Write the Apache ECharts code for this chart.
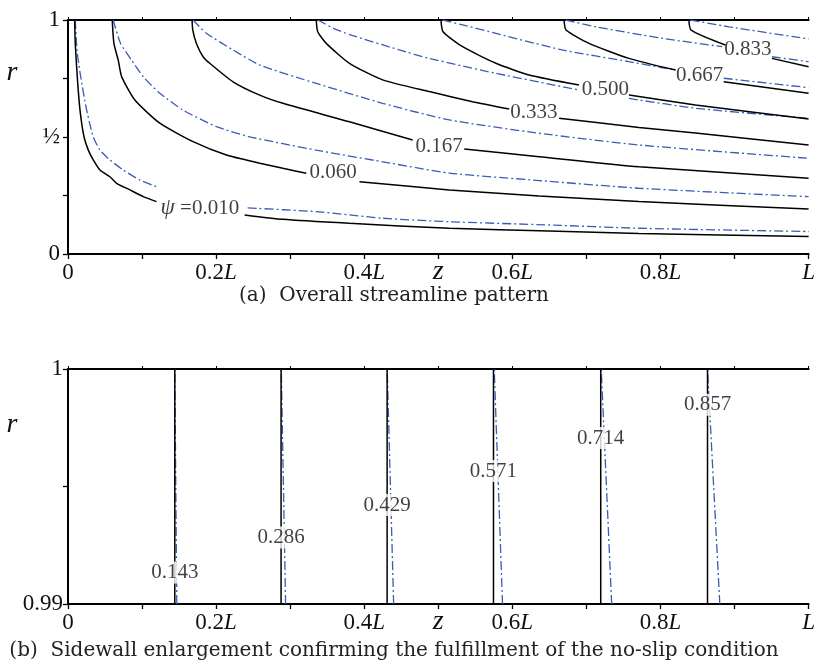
<!DOCTYPE html>
<html>
<head>
<meta charset="utf-8">
<title>Streamlines</title>
<script src="https://cdn.jsdelivr.net/npm/echarts@6/dist/echarts.min.js"></script>
<style>
  html, body { margin: 0; padding: 0; background: #fff; }
  #main { width: 818px; height: 672px; }
</style>
</head>
<body>
<div id="main"></div>
<script>
(function () {
    "use strict";

    // ---- data, [z/L, r] ----
    var gap = ['-', '-'];

    var solid010 = [[0.009, 1.0], [0.0098, 0.900], [0.0125, 0.758], [0.0162, 0.615], [0.0216, 0.501],
        [0.0274, 0.444], [0.0341, 0.402], [0.0431, 0.359], [0.0566, 0.330], [0.0656, 0.302],
        [0.0836, 0.274], [0.1016, 0.245], [0.1195, 0.224], gap, [0.2385, 0.167], [0.2898, 0.148],
        [0.380, 0.131], [0.5148, 0.110], [0.6496, 0.098], [0.7709, 0.088], [1.0, 0.075]];
    var dash010 = [[0.0098, 1.0], [0.0121, 0.872], [0.0171, 0.758], [0.0252, 0.615], [0.0341, 0.501],
        [0.0431, 0.444], [0.0566, 0.402], [0.0745, 0.359], [0.097, 0.316], [0.1195, 0.288], gap,
        [0.2426, 0.197], [0.3352, 0.181], [0.4245, 0.153], [0.5148, 0.138], [0.6496, 0.124],
        [0.7709, 0.110], [1.0, 0.096]];

    var solid060 = [[0.0597, 1.0], [0.062, 0.900], [0.0678, 0.829], [0.0724, 0.758], [0.0903, 0.658],
        [0.124, 0.559], [0.1689, 0.480], [0.2139, 0.423], [0.2588, 0.388], [0.2902, 0.366], [0.3217, 0.345], gap,
        [0.3935, 0.309], [0.5148, 0.274], [0.6361, 0.248], [0.7709, 0.224], [1.0, 0.192]];
    var dash060 = [[0.061, 1.0], [0.071, 0.900], [0.0858, 0.829], [0.1015, 0.758], [0.124, 0.687],
        [0.1554, 0.615], [0.2004, 0.544], [0.2453, 0.501], [0.3352, 0.444], [0.4249, 0.394],
        [0.5148, 0.346], [0.6361, 0.314], [0.7709, 0.281], [1.0, 0.245]];

    var solid167 = [[0.1675, 1.0], [0.1685, 0.957], [0.1734, 0.900], [0.1824, 0.843], [0.1914, 0.815],
        [0.2228, 0.736], [0.2588, 0.679], [0.2902, 0.644], [0.380, 0.565], [0.4654, 0.487], gap,
        [0.535, 0.449], [0.6361, 0.416], [0.7709, 0.373], [1.0, 0.324]];
    var dash167 = [[0.1689, 1.0], [0.1869, 0.943], [0.2228, 0.872], [0.2588, 0.808], [0.3352, 0.729],
        [0.4249, 0.644], [0.5148, 0.573], [0.6361, 0.516], [0.7709, 0.466], [1.0, 0.409]];

    var solid333 = [[0.3352, 1.0], [0.3372, 0.950], [0.3487, 0.900], [0.380, 0.815],
        [0.4249, 0.744], [0.4879, 0.694], [0.5462, 0.651], [0.5957, 0.620], gap,
        [0.6631, 0.580], [0.7709, 0.541], [0.8473, 0.517], [1.0, 0.466]];
    var dash333 = [[0.3373, 1.0], [0.36, 0.962], [0.380, 0.938], [0.4474, 0.872], [0.4879, 0.836],
        [0.5778, 0.772], [0.69, 0.701], gap, [0.7574, 0.665], [0.8473, 0.623], [1.0, 0.580]];

    var solid500 = [[0.5036, 1.0], [0.5064, 0.950], [0.5328, 0.886], [0.5778, 0.815], [0.6226, 0.765],
        [0.69, 0.722], gap, [0.7574, 0.679], [0.8473, 0.637], [1.0, 0.577]];
    var dash500 = [[0.5058, 1.0], [0.5328, 0.979], [0.5778, 0.943], [0.6675, 0.872], [0.7574, 0.822],
        [0.8203, 0.786], gap, [0.8854, 0.751], [1.0, 0.711]];

    var solid667 = [[0.6698, 1.0], [0.6725, 0.957], [0.7035, 0.900], [0.7574, 0.836], [0.8203, 0.786], gap,
        [0.8854, 0.736], [1.0, 0.687]];
    var dash667 = [[0.6721, 1.0], [0.7125, 0.971], [0.8023, 0.922], [0.8832, 0.886], gap,
        [0.9505, 0.843], [1.0, 0.822]];

    var solid833 = [[0.8383, 1.0], [0.8413, 0.957], [0.8877, 0.893], gap, [0.9505, 0.836], [1.0, 0.800]];
    var dash833 = [[0.8406, 1.0], [0.8922, 0.971], [1.0, 0.919]];

    var topLabelText = ['ψ =0.010', '0.060', '0.167', '0.333', '0.500', '0.667', '0.833'];
    var topLabelZ = [0.178, 0.358, 0.501, 0.629, 0.7255, 0.853, 0.918];
    var topLabelR = [0.196, 0.349, 0.459, 0.605, 0.705, 0.762, 0.875];

    // sidewall enlargement
    var wallPsi = ['0.143', '0.286', '0.429', '0.571', '0.714', '0.857'];
    var wallSolidZ = [0.1442, 0.2877, 0.4309, 0.5745, 0.7193, 0.8635];
    var wallDashZTop = [0.1442, 0.2880, 0.4310, 0.5755, 0.7200, 0.8635];
    var wallDashZBottom = [0.1469, 0.2938, 0.4397, 0.5867, 0.7341, 0.8801];
    var wallLabelR = [0.99134, 0.99283, 0.99421, 0.99566, 0.99706, 0.99848];
    var wallRange = [0.99, 1];

    // tick labels
    var zTickLabels = ['0', '', '0.2L', '', '0.4L', 'z', '0.6L', '', '0.8L', '', 'L'];
    var rTopLabels = ['0', '', '½', '', '1'];
    var rWallLabels = ['0.99', '', '1'];

    var solidLines = [solid010, solid060, solid167, solid333, solid500, solid667, solid833];
    var dashLines = [dash010, dash060, dash167, dash333, dash500, dash667, dash833];

    // ---- styles ----
    var SERIF = 'Liberation Serif';
    var BLUE = '#3a5cb6';
    var DASHDOT = [9, 3, 2, 3];

    var tickRich = {
        n: { fontFamily: SERIF, fontSize: 23, color: '#111' },
        i: { fontFamily: SERIF, fontSize: 23, fontStyle: 'italic', color: '#111' },
        zz: { fontFamily: SERIF, fontSize: 28, fontStyle: 'italic', color: '#111', padding: [-3, 0, 0, 0] }
    };

    function mathLabel(s) {
        if (!s) return '';
        if (s === 'z') return '{zz|z}';
        var m = s.match(/^([0-9.]*)([A-Za-z]?)$/);
        var out = '';
        if (m[1]) out += '{n|' + m[1] + '}';
        if (m[2]) out += '{i|' + m[2] + '}';
        return out;
    }

    function xAxes(gridIndex) {
        return [{
            type: 'value', gridIndex: gridIndex, min: 0, max: 1, interval: 0.1, position: 'bottom',
            axisLine: { lineStyle: { color: '#000', width: 2 } },
            axisTick: { length: 5, lineStyle: { color: '#000', width: 1.3 } },
            axisLabel: {
                margin: 7, rich: tickRich,
                formatter: function (v) { return mathLabel(zTickLabels[Math.round(v * 10)]); }
            },
            splitLine: { show: false }
        }, {
            type: 'value', gridIndex: gridIndex, min: 0, max: 1, interval: 0.1, position: 'top',
            axisLine: { lineStyle: { color: '#000', width: 2 } },
            axisTick: { length: 3, lineStyle: { color: '#000', width: 1 } },
            axisLabel: { show: false },
            splitLine: { show: false }
        }];
    }

    var option = {
        animation: false,
        backgroundColor: '#fff',
        grid: [
            { left: 68, top: 20, width: 742, height: 234 },
            { left: 68, top: 369, width: 742, height: 235 }
        ],
        xAxis: xAxes(0).concat(xAxes(1)),
        yAxis: [{
            type: 'value', gridIndex: 0, min: 0, max: 1, interval: 0.25,
            axisLine: { show: true, lineStyle: { color: '#000', width: 2 } },
            axisTick: { show: true, length: 5, lineStyle: { color: '#000', width: 1.3 } },
            axisLabel: {
                margin: 8, fontFamily: SERIF, fontSize: 23, color: '#111',
                formatter: function (v) { return rTopLabels[Math.round(v * 4)]; }
            },
            splitLine: { show: false }
        }, {
            type: 'value', gridIndex: 1, min: 0.99, max: 1, interval: 0.005,
            axisLine: { show: true, lineStyle: { color: '#000', width: 2 } },
            axisTick: { show: true, length: 5, lineStyle: { color: '#000', width: 1.3 } },
            axisLabel: {
                margin: 5, fontFamily: SERIF, fontSize: 23, color: '#111',
                formatter: function (v) { return rWallLabels[Math.round((v - 0.99) / 0.005)]; }
            },
            splitLine: { show: false }
        }],
        graphic: [
            { type: 'text', x: 12, y: 73, style: { text: 'r', font: 'italic 28px "Liberation Serif"', fill: '#111', textAlign: 'center', textVerticalAlign: 'middle' } },
            { type: 'text', x: 12, y: 425, style: { text: 'r', font: 'italic 28px "Liberation Serif"', fill: '#111', textAlign: 'center', textVerticalAlign: 'middle' } },
            { type: 'text', x: 394, y: 296, style: { text: '(a)  Overall streamline pattern', font: '20px "DejaVu Serif"', fill: '#222', textAlign: 'center', textVerticalAlign: 'middle' } },
            { type: 'text', x: 394, y: 651, style: { text: '(b)  Sidewall enlargement confirming the fulfillment of the no-slip condition', font: '20px "DejaVu Serif"', fill: '#222', textAlign: 'center', textVerticalAlign: 'middle' } }
        ],
        series: []
    };

    // streamline panel
    solidLines.forEach(function (d, i) {
        option.series.push({
            type: 'line', xAxisIndex: 0, yAxisIndex: 0, data: d, showSymbol: false, symbol: 'none',
            smooth: 0.2, connectNulls: false, silent: true, z: 3,
            lineStyle: { color: '#000', width: 1.5 }
        });
        option.series.push({
            type: 'line', xAxisIndex: 0, yAxisIndex: 0, data: dashLines[i], showSymbol: false, symbol: 'none',
            smooth: 0.2, connectNulls: false, silent: true, z: 2,
            lineStyle: { color: BLUE, width: 1.3, type: DASHDOT }
        });
    });

    option.series.push({
        type: 'scatter', xAxisIndex: 0, yAxisIndex: 0, symbolSize: 0, silent: true, z: 10,
        data: topLabelText.map(function (t, i) { return { name: t, value: [topLabelZ[i], topLabelR[i]] }; }),
        label: {
            show: true, position: 'inside', fontFamily: SERIF, fontSize: 21, color: '#111',
            formatter: function (p) { return p.name.replace('ψ', '{g|ψ}'); },
            rich: { g: { fontFamily: SERIF, fontSize: 23, fontStyle: 'italic', color: '#111' } }
        }
    });

    // sidewall panel
    wallPsi.forEach(function (p, i) {
        option.series.push({
            type: 'line', xAxisIndex: 2, yAxisIndex: 1, showSymbol: false, symbol: 'none', silent: true, z: 3,
            data: [[wallSolidZ[i], wallRange[0]], [wallSolidZ[i], wallRange[1]]],
            lineStyle: { color: '#000', width: 1.5 }
        });
        option.series.push({
            type: 'line', xAxisIndex: 2, yAxisIndex: 1, showSymbol: false, symbol: 'none', silent: true, z: 2,
            data: [[wallDashZBottom[i], wallRange[0]], [wallDashZTop[i], wallRange[1]]],
            lineStyle: { color: BLUE, width: 1.3, type: DASHDOT }
        });
    });

    option.series.push({
        type: 'scatter', xAxisIndex: 2, yAxisIndex: 1, symbolSize: 0, silent: true, z: 10,
        data: wallPsi.map(function (t, i) { return { name: t, value: [wallSolidZ[i], wallLabelR[i]] }; }),
        label: {
            show: true, position: 'inside', fontFamily: SERIF, fontSize: 21, color: '#111',
            backgroundColor: '#fff', padding: [1, 1, 0, 1],
            formatter: function (p) { return p.name; }
        }
    });

    var myChart = echarts.init(document.getElementById('main'));
    myChart.setOption(option);
})();
</script>
</body>
</html>
